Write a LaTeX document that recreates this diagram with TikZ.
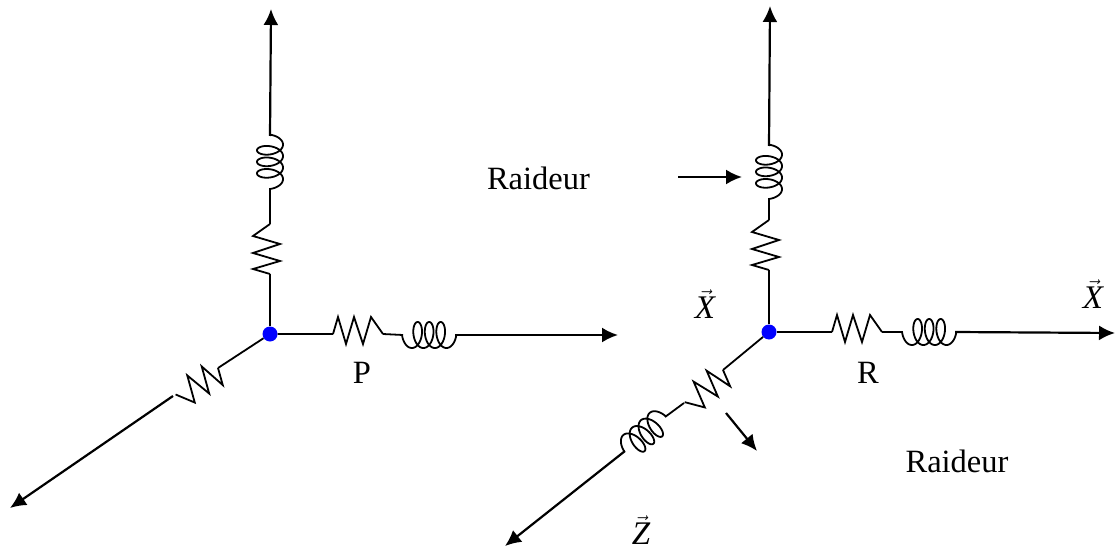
\documentclass[tikz,border=0pt]{standalone}
\usepackage{fontspec}
\setmainfont{Liberation Serif}
\usetikzlibrary{arrows.meta}
\tikzset{
  x=1pt,y=1pt,
  wire/.style={line width=1.8pt,black},
  lead/.style={line width=2.2pt,black,-{Latex[length=16pt,width=15pt]}},
  hubdot/.style={circle,fill=blue,draw=none,minimum size=15pt,inner sep=0pt},
  label/.style={font=\fontsize{32.5}{36}\selectfont,inner sep=0pt,anchor=base},
  vlabel/.style={font=\fontsize{33}{36}\selectfont,inner sep=0pt},
  pics/zig/.style={code={
    \draw[wire,line join=miter] (0,0)--(5,17)--(13,-10)--(21,17)--(30,-10)--(38,17)--(50,0);
  }},
  pics/coil/.style={code={
    \draw[wire] plot[domain=-180:1080,samples=240,smooth] ({(\x+180)*0.032+7*(cos(\x)+1)-1},{13*sin(\x)});
  }}
}
\begin{document}
\begin{tikzpicture}
\useasboundingbox (0,0) rectangle (1115,550);
% left figure
\node[hubdot] (hubL) at (270,216) {};
\coordinate (lu1) at (270,276);
\coordinate (lu2) at (270,326);
\coordinate (lu3) at (270,362);
\coordinate (lu4) at (270,414);
\coordinate (lutip) at (271,541);
\coordinate (lr1) at (333,216);
\coordinate (lr2) at (383,216);
\coordinate (lr3) at (403,215);
\coordinate (lr4) at (455,215);
\coordinate (lrtip) at (618,215);
\coordinate (ld1) at (218,182);
\coordinate (ld2) at (173,154);
\coordinate (ldtip) at (10,42);
\draw[wire] (hubL) -- (lu1) (lu2) -- (lu3);
\draw[lead] (lu4) -- (lutip);
\draw[wire] (hubL) -- (lr1) (lr2) -- (lr3);
\draw[lead] (lr4) -- (lrtip);
\draw[wire] (hubL) -- (ld1);
\draw[lead] (ld2) -- (ldtip);
\pic[rotate=90] at (lu1) {zig};
\pic[rotate=90] at (lu3) {coil};
\pic at (lr1) {zig};
\pic at (lr3) {coil};
\pic[rotate=212] at (ld1) {zig};
% right figure
\node[hubdot] (hubR) at (769,218) {};
\coordinate (ru1) at (769,280);
\coordinate (ru2) at (769,330);
\coordinate (ru3) at (769,352);
\coordinate (ru4) at (769,404);
\coordinate (rutip) at (770,544);
\coordinate (rr1) at (832,218);
\coordinate (rr2) at (882,218);
\coordinate (rr3) at (903,218);
\coordinate (rr4) at (955,218);
\coordinate (rrtip) at (1115,217);
\coordinate (rd1) at (723,180);
\coordinate (rd2) at (684,147);
\coordinate (rd3) at (665,133);
\coordinate (rd4) at (625,99);
\coordinate (rdtip) at (505,4);
\draw[wire] (hubR) -- (ru1) (ru2) -- (ru3);
\draw[lead] (ru4) -- (rutip);
\draw[wire] (hubR) -- (rr1) (rr2) -- (rr3);
\draw[lead] (rr4) -- (rrtip);
\draw[wire] (hubR) -- (rd1) (rd2) -- (rd3);
\draw[lead] (rd4) -- (rdtip);
\pic[rotate=90] at (ru1) {zig};
\pic[rotate=90] at (ru3) {coil};
\pic at (rr1) {zig};
\pic at (rr3) {coil};
\pic[rotate=220] at (rd1) {zig};
\pic[rotate=220] at (rd3) {coil};
% labels and pointers
\node[label] (tRa) at (538.5,361) {Raideur};
\node[label] (tRb) at (957,78) {Raideur};
\node[label] (tP) at (362,167) {P};
\node[label] (tR) at (868,167) {R};
\node[vlabel] (tX1) at (705,246) {$\vec{\hbox{\itshape X}}$};
\node[vlabel] (tX2) at (1093,256) {$\vec{\hbox{\itshape X}}$};
\node[vlabel] (tZ) at (641,20) {$\vec{\hbox{\itshape Z}}$};
\coordinate (pa1) at (678,373);
\coordinate (pa2) at (742,373);
\coordinate (pb1) at (726,137);
\coordinate (pb2) at (757,99);
\draw[lead] (pa1) -- (pa2);
\draw[lead] (pb1) -- (pb2);
\end{tikzpicture}
\end{document}
